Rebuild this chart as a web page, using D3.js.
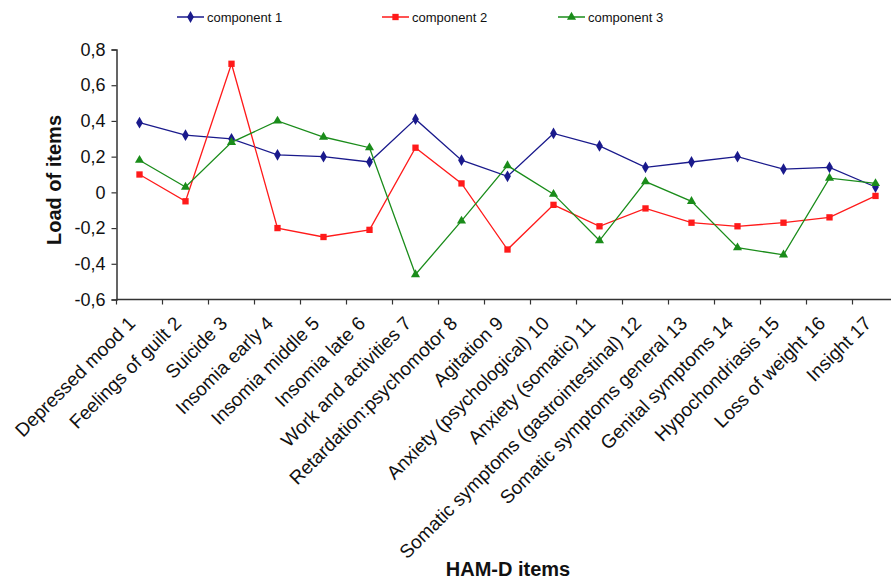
<!DOCTYPE html>
<html>
<head>
<meta charset="utf-8">
<script src="https://cdn.jsdelivr.net/npm/d3@7"></script>
<style>
body { margin: 0; background: #fff; }
text { font-family: Arial, "Liberation Sans", Helvetica, sans-serif; }
</style>
</head>
<body>
<div id="chart"></div>
<script>
// HAM-D item loadings on three components
var items = ["Depressed mood 1", "Feelings of guilt 2", "Suicide 3", "Insomia early 4",
  "Insomia middle 5", "Insomia late 6", "Work and activities 7", "Retardation:psychomotor 8",
  "Agitation 9", "Anxiety (psychological) 10", "Anxiety (somatic) 11",
  "Somatic symptoms (gastrointestinal) 12", "Somatic symptoms general 13",
  "Genital symptoms 14", "Hypochondriasis 15", "Loss of weight 16", "Insight 17"];

var component1 = [0.39, 0.32, 0.30, 0.21, 0.20, 0.17, 0.41, 0.18, 0.09, 0.33, 0.26, 0.14, 0.17, 0.20, 0.13, 0.14, 0.03];
var component2 = [0.10, -0.05, 0.72, -0.20, -0.25, -0.21, 0.25, 0.05, -0.32, -0.07, -0.19, -0.09, -0.17, -0.19, -0.17, -0.14, -0.02];
var component3 = [0.18, 0.03, 0.28, 0.40, 0.31, 0.25, -0.46, -0.16, 0.15, -0.01, -0.27, 0.06, -0.05, -0.31, -0.35, 0.08, 0.05];

var seriesNames = ["component 1", "component 2", "component 3"];
var yTicks = [-0.6, -0.4, -0.2, 0, 0.2, 0.4, 0.6, 0.8];

var width = 891,
    height = 581;

var svg = d3.select("#chart").append("svg")
  .attr("width", width)
  .attr("height", height);

var plotLeft = 116.5, plotBottom = 299.5, plotTop = 49.5;
var band = 46;

var x = d3.scaleBand()
  .domain(items)
  .range([plotLeft, plotLeft + band * items.length]);

var y = d3.scaleLinear()
  .domain([-0.6, 0.8])
  .range([plotBottom, plotTop]);

// comma decimals, plain hyphen
function fmt(v) {
  if (Math.abs(v) < 1e-9) return "0";
  return d3.format(".1f")(v).replace("−", "-").replace(".", ",");
}

var series = [
  {name: seriesNames[0], values: component1, color: "#1a1a8c", shape: d3.symbolDiamond, size: 40},
  {name: seriesNames[1], values: component2, color: "#ff1a1a", shape: d3.symbolSquare, size: 40},
  {name: seriesNames[2], values: component3, color: "#1a8c1a", shape: d3.symbolTriangle, size: 36}
];

// y axis
var yAxis = svg.append("g")
  .attr("transform", "translate(" + plotLeft + ",0)")
  .call(d3.axisLeft(y).tickValues(yTicks).tickFormat(fmt).tickSize(5).tickPadding(6));
yAxis.select(".domain").attr("stroke", "#333").attr("stroke-width", 1.5);
yAxis.selectAll(".tick line").attr("stroke", "#333").attr("stroke-width", 1.2);
yAxis.selectAll(".tick text")
  .attr("font-size", "18px")
  .attr("font-family", "Arial, 'Liberation Sans', sans-serif")
  .attr("fill", "#111");

// x axis: ticks between categories
var xAxis = svg.append("g")
  .attr("transform", "translate(0," + plotBottom + ")");
xAxis.append("line")
  .attr("x1", plotLeft).attr("x2", width)
  .attr("y1", 0).attr("y2", 0)
  .attr("stroke", "#333").attr("stroke-width", 1.5);
xAxis.selectAll(".xtick")
  .data(items)
  .enter()
  .append("line")
  .attr("x1", function(d) { return x(d); })
  .attr("x2", function(d) { return x(d); })
  .attr("y1", 0).attr("y2", 5)
  .attr("stroke", "#333").attr("stroke-width", 1.2);
xAxis.selectAll(".xlab")
  .data(items)
  .enter()
  .append("text")
  .attr("transform", function(d) {
    return "translate(" + (x(d) + x.bandwidth() / 2 - 3) + ",25) rotate(-45)";
  })
  .attr("text-anchor", "end")
  .attr("font-size", "19px")
  .attr("fill", "#111")
  .text(function(d) { return d; });

// axis titles
svg.append("text")
  .attr("transform", "translate(54,180) rotate(-90)")
  .attr("text-anchor", "middle")
  .attr("dy", "0.35em")
  .attr("font-size", "20px")
  .attr("font-weight", "bold")
  .attr("fill", "#111")
  .text("Load of items");

svg.append("text")
  .attr("x", 508)
  .attr("y", 576)
  .attr("text-anchor", "middle")
  .attr("font-size", "20px")
  .attr("font-weight", "bold")
  .attr("fill", "#111")
  .text("HAM-D items");

// lines and markers
var line = d3.line()
  .x(function(d, i) { return x(items[i]) + x.bandwidth() / 2; })
  .y(function(d) { return y(d); });

series.forEach(function(s, k) {
  svg.append("path")
    .datum(s.values)
    .attr("d", line)
    .style("fill", "none")
    .style("stroke", s.color)
    .style("stroke-width", 1.3);

  svg.selectAll(".m" + k)
    .data(s.values)
    .enter()
    .append("path")
    .attr("class", "m" + k)
    .attr("transform", function(d, i) {
      return "translate(" + (x(items[i]) + x.bandwidth() / 2) + "," + y(d) + ")";
    })
    .attr("d", d3.symbol().type(s.shape).size(s.size))
    .style("fill", s.color);
});

// legend
var legendX = [177, 382, 558];
var legend = svg.selectAll(".legend")
  .data(series)
  .enter()
  .append("g")
  .attr("class", "legend")
  .attr("transform", function(d, i) { return "translate(" + legendX[i] + ",17)"; });

legend.append("line")
  .attr("x1", 0).attr("x2", 27)
  .attr("y1", 0).attr("y2", 0)
  .style("stroke", function(d) { return d.color; })
  .style("stroke-width", 1.5);
legend.append("path")
  .attr("transform", "translate(13.5,0)")
  .attr("d", function(d) { return d3.symbol().type(d.shape).size(d.size)(); })
  .style("fill", function(d) { return d.color; });
legend.append("text")
  .attr("x", 30)
  .attr("dy", "0.35em")
  .attr("font-size", "13px")
  .attr("fill", "#111")
  .text(function(d) { return d.name; });
</script>
</body>
</html>
